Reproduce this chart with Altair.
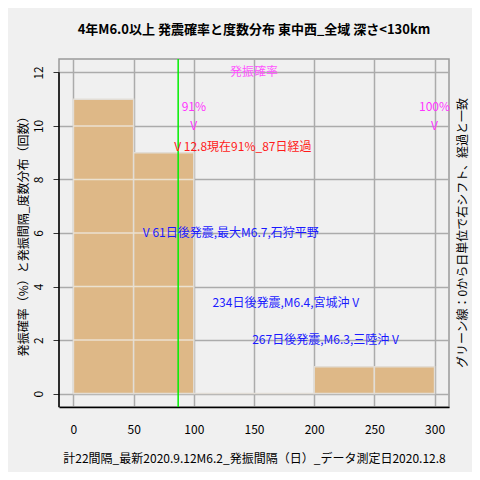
import altair as alt
import pandas as pd

# ---- data ----
bin_start = [0, 50, 100, 150, 200, 250]
bin_end = [50, 100, 150, 200, 250, 300]
counts = [11, 9, 0, 0, 1, 1]

prob_x = [100, 300]
prob_text = ["91%", "100%"]
prob_y = [10.7, 10.7]
prob_v_y = [10, 10]

elapsed_day = [87]
current_label = ["V 12.8現在91%_87日経過"]
current_y = [9.2]

event_day = [61, 234, 267]
event_y = [6.0, 3.4, 2.0]
event_label = ["V 61日後発震,最大M6.7,石狩平野", "234日後発震,M6.4,宮城沖 V", "267日後発震,M6.3,三陸沖 V"]
event_side = ["left", "right", "right"]

x_ticks = [0, 50, 100, 150, 200, 250, 300]
y_ticks = [0, 2, 4, 6, 8, 10, 12]

title = "4年M6.0以上 発震確率と度数分布 東中西_全域 深さ<130km"
x_title = "計22間隔_最新2020.9.12M6.2_発振間隔（日）_データ測定日2020.12.8"
y_title = "発振確率（%）と発振間隔_度数分布（回数）"
right_text = "グリーン線：0から日単位で右シフト、経過と一致"
prob_title = "発振確率"

FONT = "Noto Sans CJK JP"
W, H = 390, 348
XD = [-12, 312]
YD = [-0.5, 12.5]

bars = pd.DataFrame({"x0": bin_start, "x1": bin_end, "n": counts})
inner = pd.DataFrame([
    {"x0": s, "x1": e, "y": g}
    for s, e, n in zip(bin_start, bin_end, counts)
    for g in y_ticks if 0 < g < n
])

xs = alt.Scale(domain=XD, nice=False, zero=False)
ys = alt.Scale(domain=YD, nice=False, zero=False)

xaxis = alt.Axis(values=x_ticks, title=x_title, grid=True, gridColor="#ababab", gridWidth=1.5,
                 ticks=False, domain=True, domainColor="black", domainWidth=1.5,
                 labelFontSize=12, labelFont=FONT, labelColor="black", labelPadding=17,
                 titleFont=FONT, titleFontSize=12, titleFontWeight="normal", titleColor="black",
                 titlePadding=18, labelFlush=False)
yaxis = alt.Axis(values=y_ticks, title=y_title, grid=True, gridColor="#ababab", gridWidth=1.5,
                 ticks=True, tickSize=6, tickColor="#333333", domain=False,
                 labelFontSize=12, labelFont=FONT, labelColor="black", labelAngle=270,
                 labelAlign="center", labelBaseline="bottom", labelPadding=8,
                 titleFont=FONT, titleFontSize=12, titleFontWeight="normal", titleColor="black",
                 titlePadding=2, labelFlush=False)

base_bars = alt.Chart(bars).mark_rect(color="#DEB887", stroke="#e2ddd6", strokeWidth=1.5).encode(
    x=alt.X("x0:Q", scale=xs, axis=xaxis),
    x2="x1:Q",
    y=alt.Y("n:Q", scale=ys, axis=yaxis),
    y2=alt.datum(0),
)

inner_grid = alt.Chart(inner).mark_rule(color="#ebe1d0", strokeWidth=1.5).encode(
    x=alt.X("x0:Q", scale=xs), x2="x1:Q", y=alt.Y("y:Q", scale=ys)
)

green = alt.Chart(pd.DataFrame({"d": elapsed_day})).mark_rule(color="#00ee00", strokeWidth=1.5).encode(
    x=alt.X("d:Q", scale=xs), y=alt.value(0), y2=alt.value(H)
)

left_line = alt.Chart(pd.DataFrame({"t": [12]})).mark_rule(color="black", strokeWidth=1.5).encode(
    x=alt.value(0), y=alt.Y("t:Q", scale=ys), y2=alt.value(H)
)

prob_df = pd.DataFrame({"x": prob_x, "t": prob_text, "y": prob_y, "vy": prob_v_y})
prob_pct = alt.Chart(prob_df).mark_text(color="#ff33ff", fontSize=12, font=FONT).encode(
    x=alt.X("x:Q", scale=xs), y=alt.Y("y:Q", scale=ys), text="t:N"
)
prob_v = alt.Chart(prob_df).mark_text(color="#ff33ff", fontSize=12, font=FONT, text="V").encode(
    x=alt.X("x:Q", scale=xs), y=alt.Y("vy:Q", scale=ys)
)
prob_head = alt.Chart(pd.DataFrame({"t": [prob_title], "x": [150], "y": [12]})).mark_text(
    color="#ff55ff", fontSize=12, font=FONT).encode(
    x=alt.X("x:Q", scale=xs), y=alt.Y("y:Q", scale=ys), text="t:N"
)

cur = alt.Chart(pd.DataFrame({"x": elapsed_day, "y": current_y, "t": current_label})).mark_text(
    color="#ff1a1a", fontSize=12, font=FONT, align="left", dx=-4).encode(
    x=alt.X("x:Q", scale=xs), y=alt.Y("y:Q", scale=ys), text="t:N"
)

ev = pd.DataFrame({"x": event_day, "y": event_y, "t": event_label, "s": event_side})
ev_left = alt.Chart(ev[ev.s == "left"]).mark_text(
    color="#1a1aff", fontSize=12, font=FONT, align="left", dx=-4).encode(
    x=alt.X("x:Q", scale=xs), y=alt.Y("y:Q", scale=ys), text="t:N"
)
ev_right = alt.Chart(ev[ev.s == "right"]).mark_text(
    color="#1a1aff", fontSize=12, font=FONT, align="right", dx=4).encode(
    x=alt.X("x:Q", scale=xs), y=alt.Y("y:Q", scale=ys), text="t:N"
)

side = alt.Chart(pd.DataFrame({"t": [right_text]})).mark_text(
    color="black", fontSize=12, font=FONT, angle=270, align="center", baseline="middle").encode(
    x=alt.value(404), y=alt.value(H / 2), text="t:N"
)

chart = alt.layer(
    base_bars, inner_grid, green, left_line, prob_head, prob_pct, prob_v, cur, ev_left, ev_right, side
).properties(
    width=W, height=H,
    title=alt.TitleParams(title, font=FONT, fontSize=13, fontWeight="bold", color="black",
                          anchor="middle", offset=21),
    autosize=alt.AutoSizeParams(type="none"),
    padding={"left": 51, "top": 51, "right": 23, "bottom": 65},
    background="#f0f0f0",
).configure_view(stroke="#999999", strokeWidth=1.5)

chart.save("out.html", embed_options={"renderer": "svg", "actions": False})
